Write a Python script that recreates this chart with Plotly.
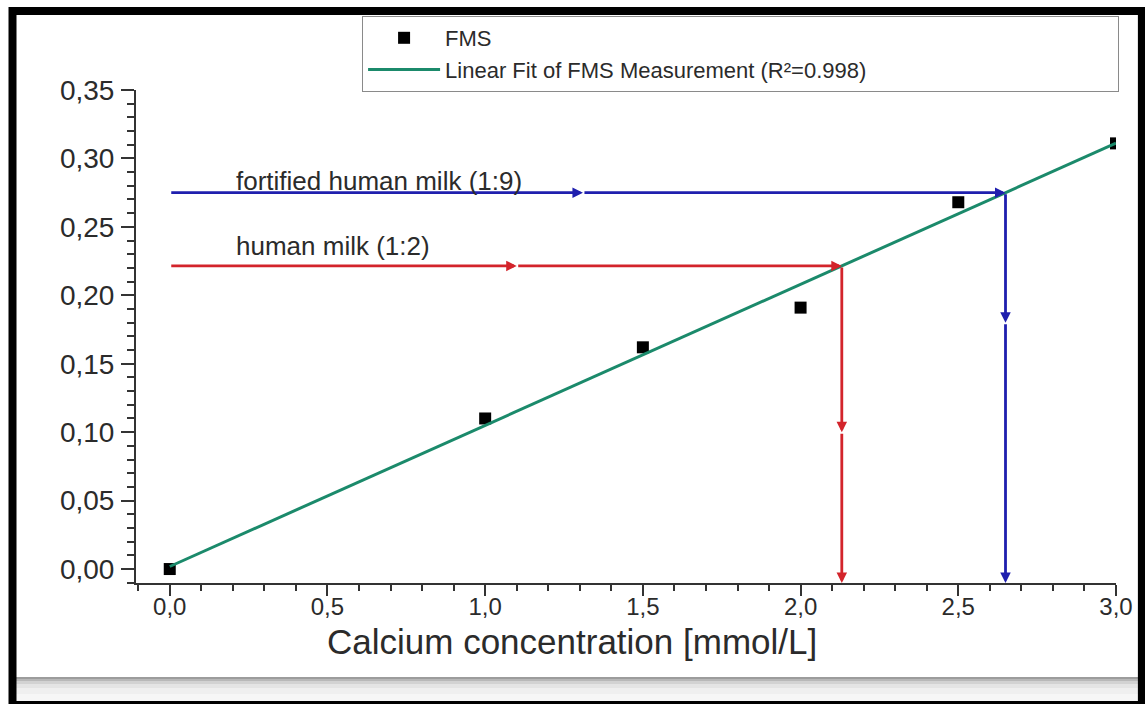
import numpy as np
import plotly.graph_objects as go

# FMS calibration measurements
calcium_mmol = [0.0, 1.0, 1.5, 2.0, 2.5, 3.0]
fms_signal = [0.000, 0.110, 0.162, 0.191, 0.268, 0.311]

# Sample readings projected onto the calibration line
sample_names = ["fortified human milk (1:9)", "human milk (1:2)"]
sample_signal = [0.275, 0.2215]
sample_colors = ["#1f1fae", "#d3242b"]
# where the direction arrowheads sit along each path
sample_mid_x = [1.31, 1.10]
sample_mid_y = [0.180, 0.100]
sample_label_y = [0.2836, 0.236]

legend_labels = ["FMS", "Linear Fit of FMS Measurement (R\u00b2=0.998)"]

X_RANGE = [-0.107, 3.0]
Y_RANGE = [-0.0102, 0.35]

W, H = 1145, 704
M_L, M_R, M_T, M_B = 136, 25, 90, 121
PW, PH = W - M_L - M_R, H - M_T - M_B


def px_x(p):
    return (p - M_L) / PW


def px_y(p):
    return (H - M_B - p) / PH


FONT = "Liberation Sans, Arial, sans-serif"
TXT = "#2b2b2b"
GREEN = "#1b8a6b"

slope, intercept = np.polyfit(calcium_mmol, fms_signal, 1)
fit_x = np.array([0.0, 3.0])
fit_y = slope * fit_x + intercept

fig = go.Figure()
fig.add_trace(go.Scatter(
    x=calcium_mmol, y=fms_signal, mode="markers", name=legend_labels[0],
    marker=dict(symbol="square", size=12, color="black"),
))
fig.add_trace(go.Scatter(
    x=fit_x, y=fit_y, mode="lines", name=legend_labels[1],
    line=dict(color=GREEN, width=3),
))

annotations = []
y_floor = Y_RANGE[0]
for name, sy, col, mx, my, ly in zip(sample_names, sample_signal, sample_colors,
                                     sample_mid_x, sample_mid_y, sample_label_y):
    sx = (sy - intercept) / slope
    # horizontal then vertical path, each split so an arrowhead sits midway
    segments = [
        ((0.0, sy), (mx, sy)),
        ((mx, sy), (sx, sy)),
        ((sx, sy), (sx, my)),
        ((sx, my), (sx, y_floor)),
    ]
    for (x0, y0), (x1, y1) in segments:
        annotations.append(dict(
            x=x1, y=y1, ax=x0, ay=y0, xref="x", yref="y", axref="x", ayref="y",
            showarrow=True, arrowhead=2, arrowsize=0.75, arrowwidth=2.8,
            arrowcolor=col, text="", standoff=0, startstandoff=0,
        ))
    annotations.append(dict(
        x=0.205, y=ly, xref="x", yref="y", text=name, showarrow=False,
        xanchor="left", yanchor="middle",
        font=dict(family=FONT, size=26, color=TXT),
    ))

annotations.append(dict(
    x=px_x(574), y=px_y(641), xref="paper", yref="paper",
    text="Calcium concentration [mmol/L]", showarrow=False,
    xanchor="center", yanchor="middle",
    font=dict(family=FONT, size=35, color=TXT),
))

shapes = []
# soft grey band along the bottom edge
band = [(677, 679, "#9c9c9c"), (679, 681, "#b8b8b8"), (681, 684, "#d2d2d2"),
        (684, 688, "#e4e4e4"), (688, 694, "#efefef"), (694, 701, "#f6f6f6")]
for y0, y1, c in band:
    shapes.append(dict(type="rect", xref="paper", yref="paper",
                       x0=px_x(12), x1=px_x(1145), y0=px_y(y1), y1=px_y(y0),
                       fillcolor=c, line=dict(width=0), layer="above"))
# thick black outer frame
shapes.append(dict(type="rect", xref="paper", yref="paper",
                   x0=px_x(12), x1=px_x(1146), y0=px_y(705), y1=px_y(11),
                   line=dict(color="black", width=8), layer="above"))

axis_common = dict(
    showgrid=False, zeroline=False, showline=True, linecolor="#333333",
    linewidth=2, ticks="outside", tickwidth=2, tickcolor="#333333",
    mirror=False,
)

fig.update_layout(
    width=W, height=H,
    margin=dict(l=M_L, r=M_R, t=M_T, b=M_B),
    paper_bgcolor="white", plot_bgcolor="white",
    separators=", ",
    xaxis=dict(range=X_RANGE, tick0=0, dtick=0.5, tickformat=".1f", ticklen=11,
               minor=dict(dtick=0.1, ticks="outside", ticklen=6, tickwidth=2,
                          tickcolor="#333333"),
               tickfont=dict(family=FONT, size=24, color=TXT),
               ticklabelstandoff=-10, **axis_common),
    yaxis=dict(range=Y_RANGE, tick0=0, dtick=0.05, tickformat=".2f", ticklen=13,
               minor=dict(dtick=0.01, ticks="outside", ticklen=7, tickwidth=2,
                          tickcolor="#333333"),
               tickfont=dict(family=FONT, size=28, color=TXT),
               ticklabelstandoff=1, **axis_common),
    legend=dict(
        x=px_x(363), y=px_y(16), xanchor="left", yanchor="top",
        orientation="h", entrywidth=668, entrywidthmode="pixels",
        itemwidth=72, bgcolor="white", bordercolor="#8a8a8a", borderwidth=1,
        font=dict(family=FONT, size=22, color=TXT), tracegroupgap=0,
    ),
    annotations=annotations,
    shapes=shapes,
    showlegend=True,
)

fig.write_html("out.html")
